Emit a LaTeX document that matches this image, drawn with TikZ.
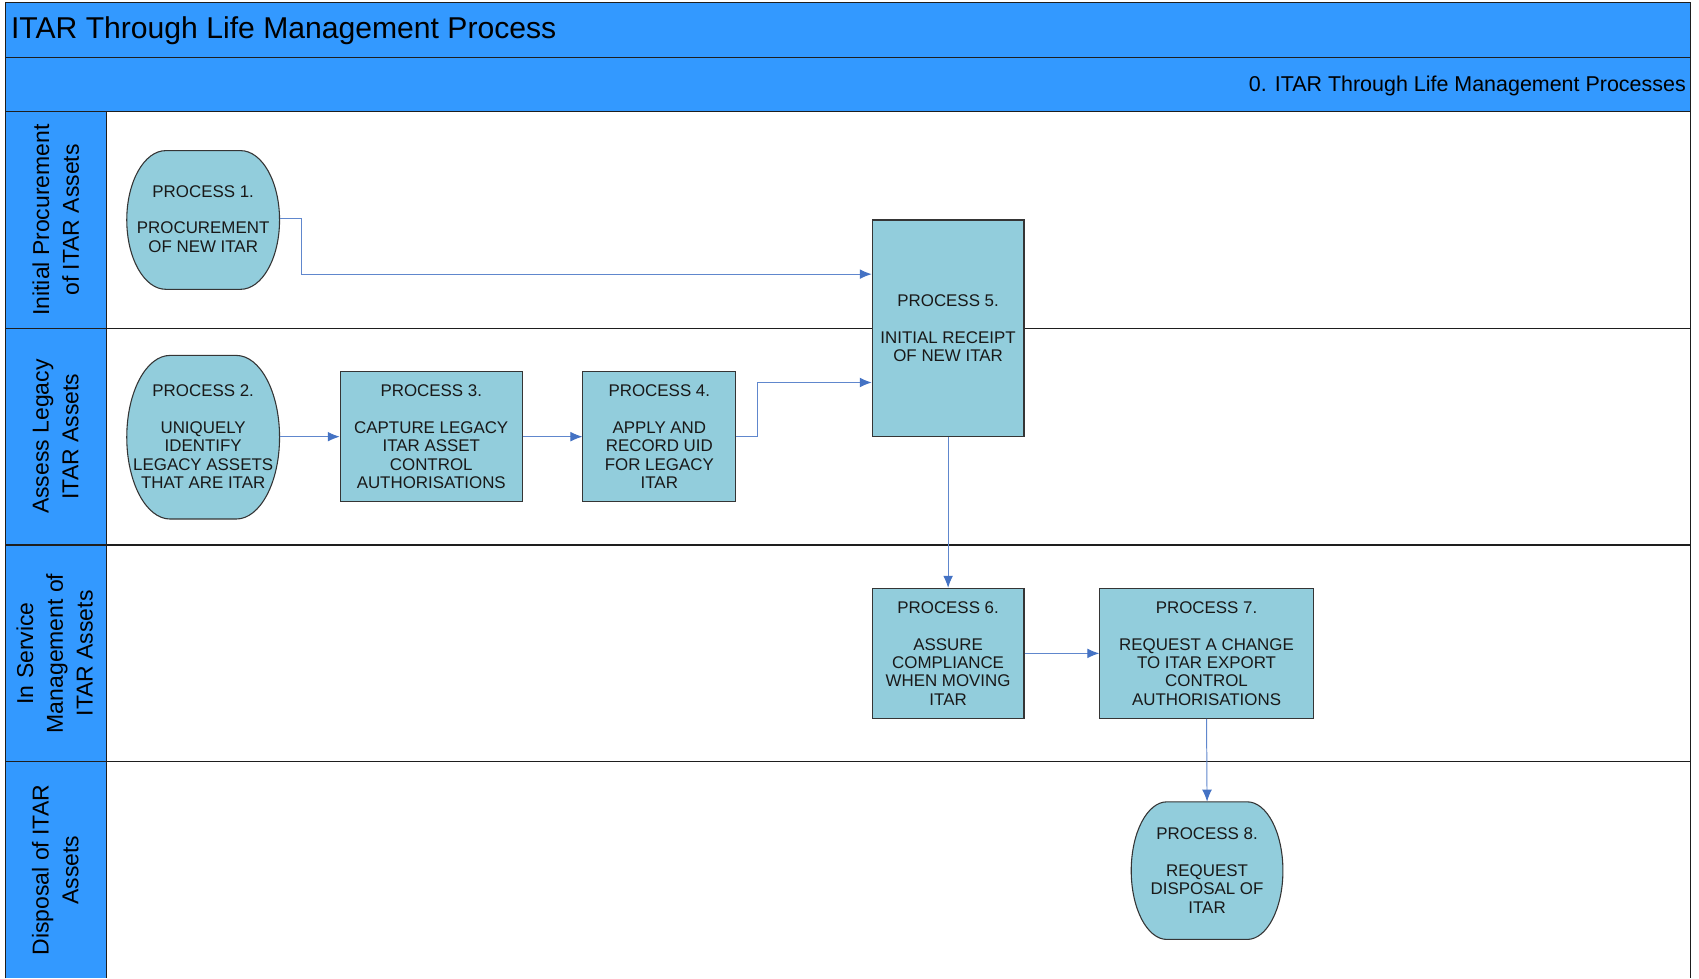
\documentclass[tikz,border=0pt]{standalone}
\usepackage{fontspec}
\setmainfont{Liberation Sans}
\usetikzlibrary{arrows.meta}
\definecolor{laneblue}{HTML}{3399FF}
\definecolor{procfill}{HTML}{92CDDC}
\definecolor{linkblue}{HTML}{4472C4}
\definecolor{framegray}{HTML}{1E1E1E}
\newcommand{\stadiumshape}[5]{% cx, cy, halfw, halfh, rx
  \filldraw[procshape] ({#1+#3-#5},{#2+#4}) arc[start angle=90,end angle=-90,x radius=#5,y radius=#4]
    -- ({#1-#3+#5},{#2-#4}) arc[start angle=270,end angle=90,x radius=#5,y radius=#4] -- cycle;}
\begin{document}
\begin{tikzpicture}[x=1pt,y=1pt,
  frameline/.style={draw=framegray,line width=1.2pt},
  procshape/.style={draw=framegray!90,fill=procfill,line width=1pt},
  procbox/.style={procshape,rectangle,inner sep=0pt,align=center,text=black!90,
    font=\fontsize{15.6}{17}\selectfont},
  proctext/.style={rectangle,inner sep=0pt,align=center,text=black!90,
    font=\fontsize{15.6}{17}\selectfont},
  lanelabel/.style={rotate=90,align=center,inner sep=0pt,
    font=\fontsize{21.2}{27.5}\selectfont},
  link/.style={draw=linkblue!85,line width=0.9pt,
    -{Latex[length=11pt,width=9pt,fill=linkblue,color=linkblue]}}]
\useasboundingbox (0,0) rectangle (1568,-903);
% header bars and lane column
\fill[laneblue] (5,-2) rectangle (1560,-103);
\fill[laneblue] (5,-103) rectangle (98,-903);
\fill[white] (98,-103) rectangle (1560,-903);
\draw[frameline] (5,-903) -- (5,-2) -- (1560,-2) -- (1560,-903);
\foreach \yy in {53,103,303,503,703} \draw[frameline] (5,-\yy) -- (1560,-\yy);
\draw[frameline] (98,-103) -- (98,-903);
% header texts
\node[anchor=base west,inner sep=0pt,font=\fontsize{27.8}{30}\selectfont] (title) at (10,-35.5) {ITAR Through Life Management Process};
\node[anchor=base east,inner sep=0pt,font=\fontsize{19.8}{22}\selectfont] (subtitle) at (1556,-84.5) {0. ITAR Through Life Management Processes};
% lane labels
\node[lanelabel] (lane1) at (51.5,-203) {Initial Procurement\\of ITAR Assets};
\node[lanelabel] (lane2) at (51.5,-403) {Assess Legacy\\ITAR Assets};
\node[lanelabel] (lane3) at (50.5,-603) {In Service\\Management of\\ITAR Assets};
\node[lanelabel] (lane4) at (51,-803) {Disposal of ITAR\\Assets};
% stadium shapes
\stadiumshape{187.5}{-203}{70.5}{64}{36}
\stadiumshape{187.5}{-403.5}{70.5}{75.5}{40}
\stadiumshape{1114}{-803.5}{70}{63.5}{33}
% process nodes
\node[proctext,minimum width=141pt,minimum height=128pt] (p1) at (187.5,-202) {PROCESS 1.\\[17pt]PROCUREMENT\\OF NEW ITAR};
\node[proctext,minimum width=141pt,minimum height=151pt] (p2) at (187.5,-403) {PROCESS 2.\\[17pt]UNIQUELY\\IDENTIFY\\LEGACY ASSETS\\THAT ARE ITAR};
\node[procbox,minimum width=168pt,minimum height=120pt] (p3) at (398,-403) {PROCESS 3.\\[17pt]CAPTURE LEGACY\\ITAR ASSET\\CONTROL\\AUTHORISATIONS};
\node[procbox,minimum width=141pt,minimum height=120pt] (p4) at (608.5,-403) {PROCESS 4.\\[17pt]APPLY AND\\RECORD UID\\FOR LEGACY\\ITAR};
\node[procbox,minimum width=140pt,minimum height=200pt] (p5) at (875,-303) {PROCESS 5.\\[17pt]INITIAL RECEIPT\\OF NEW ITAR};
\node[procbox,minimum width=140pt,minimum height=120pt] (p6) at (875,-603) {PROCESS 6.\\[17pt]ASSURE\\COMPLIANCE\\WHEN MOVING\\ITAR};
\node[procbox,minimum width=197pt,minimum height=120pt] (p7) at (1113.5,-603) {PROCESS 7.\\[17pt]REQUEST A CHANGE\\TO ITAR EXPORT\\CONTROL\\AUTHORISATIONS};
\node[proctext,minimum width=140pt,minimum height=127pt] (p8) at (1114,-803.5) {PROCESS 8.\\[17pt]REQUEST\\DISPOSAL OF\\ITAR};
% connectors
\draw[link] (p1.east) -- ++(20,0) |- ([yshift=50pt]p5.west);
\draw[link] (p2.east) -- (p3.west);
\draw[link] (p3.east) -- (p4.west);
\draw[link] (p4.east) -- ++(20,0) |- ([yshift=-50pt]p5.west);
\draw[link] (p5.south) -- (p6.north);
\draw[link] (p6.east) -- (p7.west);
\draw[link] (p7.south) -- (p8.north);
\end{tikzpicture}
\end{document}
